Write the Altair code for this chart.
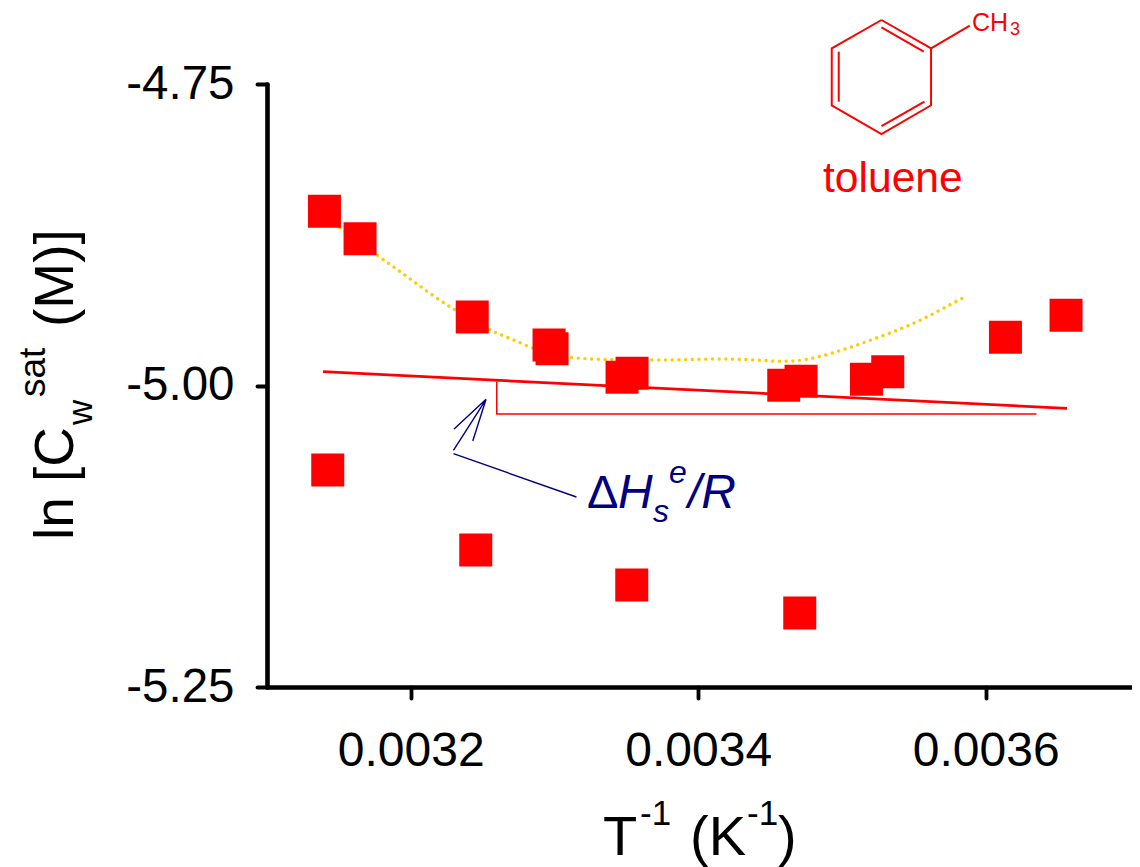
import altair as alt
import pandas as pd

# Measured points
upper_x = [0.00313997, 0.00316473, 0.00324278, 0.00329621, 0.0032983, 0.00334699, 0.00335395,
           0.00345948, 0.00347151, 0.00351701, 0.00353183, 0.0036137, 0.00365586]
upper_y = [-4.85556, -4.87828, -4.9432, -4.96642, -4.96957, -4.9932, -4.98988,
           -4.99983, -4.99652, -4.99486, -4.98856, -4.96003, -4.94179]
lower_x = [0.00314226, 0.00324522, 0.00335374, 0.00347061]
lower_y = [-5.07007, -5.1364, -5.16542, -5.18864]

# Curve through the data (dotted)
curve_x = [0.00315061, 0.00317656, 0.00319583, 0.0032144, 0.00323012, 0.00325426, 0.00327534,
           0.00328396, 0.00331061, 0.00333377, 0.00337092, 0.00341725, 0.00344049, 0.00345899,
           0.00346831, 0.00348222, 0.00350003, 0.0035177, 0.0035351, 0.00355221, 0.0035687,
           0.003581, 0.00358539]
curve_y = [-4.86915, -4.89179, -4.90837, -4.92438, -4.93682, -4.9534, -4.96418,
           -4.96866, -4.97662, -4.97828, -4.97886, -4.97803, -4.97886, -4.97993,
           -4.97944, -4.97662, -4.97056, -4.96335, -4.95564, -4.9471, -4.93715,
           -4.92935, -4.92662]

# Straight fit and slope triangle
fit_x = [0.00313899, 0.00365656]
fit_y = [-4.98856, -5.01891]
tri_x = [0.00325983, 0.00325983, 0.00363527]
tri_y = [-4.99685, -5.02355, -5.02355]

# Blue annotation arrow
arrow_x = [0.00323012, 0.00325238, 0.0032297, 0.00325238, 0.00324313]
arrow_y = [-5.03607, -5.01144, -5.05373, -5.01144, -5.04602]
leader_x = [0.0032297, 0.00331527]
leader_y = [-5.05655, -5.09245]

# Toluene structure
ring_x = [0.00352745, 0.00356195, 0.00356195, 0.00352745, 0.00349287, 0.00349287, 0.00352745]
ring_y = [-4.69693, -4.7204, -4.76766, -4.79146, -4.76766, -4.7204, -4.69693]
bond1_x = [0.00352745, 0.00355687]
bond1_y = [-4.70298, -4.72322]
bond2_x = [0.00355736, 0.00352745]
bond2_y = [-4.76468, -4.78483]
bond3_x = [0.00349774, 0.00349774]
bond3_y = [-4.72322, -4.76468]
methyl_x = [0.00356195, 0.00358887]
methyl_y = [-4.7204, -4.70166]

x_ticks = [0.0032, 0.0034, 0.0036]
y_ticks = [-4.75, -5.0, -5.25]

RED = "#FF0000"
NAVY = "#000080"
FONT = "Liberation Sans"
X0, Y0 = 267, 84

xenc = alt.X(
    "x:Q",
    scale=alt.Scale(domain=[0.0031, 0.00370174], nice=False, zero=False),
    axis=alt.Axis(
        values=x_ticks, format=".4f", title=None, grid=False, domainWidth=4.6, domainColor="black",
        domainCap="round", tickWidth=3.8, tickColor="black", tickSize=11, tickCap="round",
        labelFont=FONT, labelFontSize=48, labelColor="black", labelPadding=29, labelFlush=False,
        labelOverlap=False,
    ),
)
yenc = alt.Y(
    "y:Q",
    scale=alt.Scale(domain=[-5.25, -4.75], nice=False, zero=False),
    axis=alt.Axis(
        values=y_ticks, title=None, grid=False, domainWidth=4.6, domainColor="black",
        domainCap="round", tickWidth=3.8, tickColor="black", tickSize=10, tickCap="round",
        labelFont=FONT, labelFontSize=47.5, labelColor="black", labelPadding=23, labelFlush=False,
        labelOverlap=False,
        labelExpr="replace(format(datum.value, '.2f'), '\u2212', '-')",
    ),
)


def path(xs, ys, color, width, **kw):
    df = pd.DataFrame({"x": xs, "y": ys, "i": range(len(xs))})
    return alt.Chart(df).mark_line(color=color, strokeWidth=width, **kw).encode(
        x=xenc, y=yenc, order=alt.Order("i:Q")
    )


def label(txt, px, py, size, color="black", **kw):
    return alt.Chart(pd.DataFrame({"t": [txt]})).mark_text(
        font=FONT, fontSize=size, color=color, align="left", baseline="alphabetic", **kw
    ).encode(x=alt.value(px - X0), y=alt.value(py - Y0), text="t:N")


def squares(xs, ys):
    df = pd.DataFrame({"x": xs, "y": ys})
    return alt.Chart(df).mark_point(
        shape="square", filled=True, size=1089, color=RED, opacity=1, strokeWidth=0
    ).encode(x=xenc, y=yenc)


layers = [
    path(curve_x, curve_y, "#FFCC00", 3.4, interpolate="monotone", strokeDash=[0.01, 6.7], strokeCap="round"),
    path(tri_x, tri_y, RED, 1.5),
    path(fit_x, fit_y, RED, 2.8),
    path(arrow_x, arrow_y, NAVY, 1.4),
    path(leader_x, leader_y, NAVY, 1.4),
    path(ring_x, ring_y, RED, 2),
    path(bond1_x, bond1_y, RED, 2),
    path(bond2_x, bond2_y, RED, 2),
    path(bond3_x, bond3_y, RED, 2),
    path(methyl_x, methyl_y, RED, 2),
    squares(upper_x, upper_y),
    squares(lower_x, lower_y),
    # structure labels
    label("CH", 972, 31, 25, RED),
    label("3", 1010, 35, 18, RED),
    label("toluene", 823, 192, 42.6, RED),
    # slope annotation
    label("\u0394", 587, 508, 47, NAVY),
    label("H", 618, 508, 48, NAVY, fontStyle="italic"),
    label("s", 653, 522, 32, NAVY, fontStyle="italic"),
    label("e", 669, 483, 32, NAVY, fontStyle="italic"),
    label("/R", 688, 508, 48, NAVY, fontStyle="italic"),
    # x title
    label("T", 603, 855, 56),
    label("-1", 640, 825, 35),
    label("(K", 690, 855, 56),
    label("-1", 747, 825, 35),
    label(")", 778, 855, 56),
    # y title
    label("ln [C", 73, 540, 55, angle=270),
    label("w", 92, 425, 35, angle=270),
    label("sat", 45, 397, 37, angle=270),
    label("(M)]", 73, 327, 55, angle=270),
]

chart = alt.layer(*layers).properties(
    width=865,
    height=603,
    padding={"left": 259, "top": 76, "right": 0, "bottom": 180},
    autosize=alt.AutoSizeParams(type="none"),
    background="white",
).configure_view(stroke=None)

chart.save("out.html", embed_options={"renderer": "svg", "actions": False})
